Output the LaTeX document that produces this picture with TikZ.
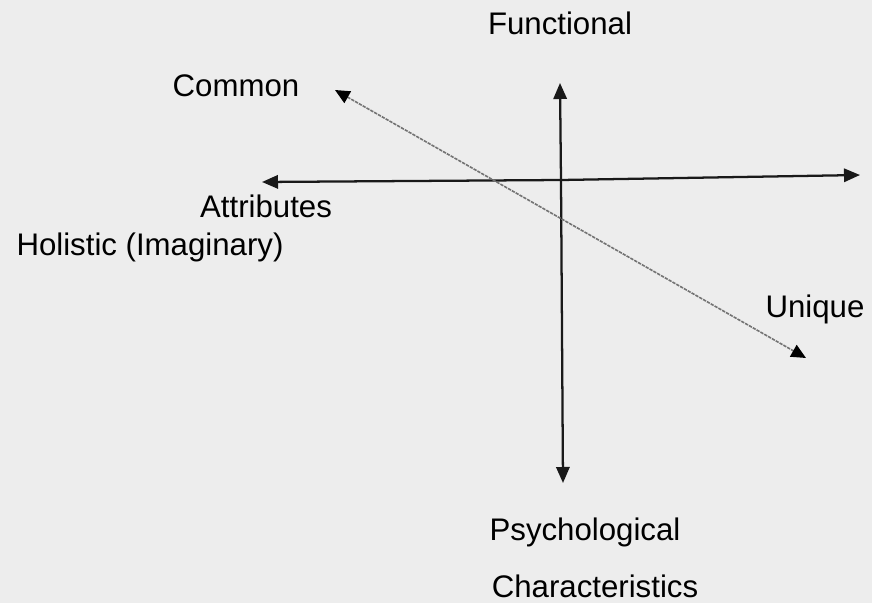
\documentclass[tikz,border=0pt]{standalone}
\usepackage{fontspec}
\setmainfont{Liberation Sans}
\usetikzlibrary{arrows.meta}
\begin{document}
\begin{tikzpicture}[x=0.75pt,y=-0.75pt,
  lbl/.style={anchor=base,inner sep=0pt,text=black,font=\fontsize{23.4}{28}\selectfont},
  axis/.style={draw=black!90,line width=1.7pt,-{Triangle[length=12pt,width=10pt]}},
  diag/.style={draw=black!55,line width=1.2pt,dash pattern=on 2.5pt off 0.8pt,
    {Triangle[length=11pt,width=10pt,color=black,fill=black]}-{Triangle[length=11pt,width=10pt,color=black,fill=black]}}]
\fill[black!7] (0,0) rectangle (872,603);
\useasboundingbox (0,0) rectangle (872,603);
% axis ends
\coordinate (c) at (561,180);
\coordinate (top) at (560,83);
\coordinate (bot) at (563,483);
\coordinate (lft) at (262,182);
\coordinate (rgt) at (860,175);
\coordinate (dtl) at (335,90);
\coordinate (dbr) at (806,358);
% axes
\draw[axis] (c) -- (top);
\draw[axis] (c) -- (bot);
\draw[axis] (c) -- (lft);
\draw[axis] (c) -- (rgt);
\draw[diag] (dtl) -- (dbr);
% labels
\node[lbl] (functional) at (560,35) {Functional};
\node[lbl] (common) at (236,96) {Common};
\node[lbl] (attributes) at (266,217) {Attributes};
\node[lbl] (holistic) at (150,255) {Holistic (Imaginary)};
\node[lbl] (unique) at (815,317) {Unique};
\node[lbl] (psych) at (585,540) {Psychological};
\node[lbl] (charac) at (595,597) {Characteristics};
\end{tikzpicture}
\end{document}
